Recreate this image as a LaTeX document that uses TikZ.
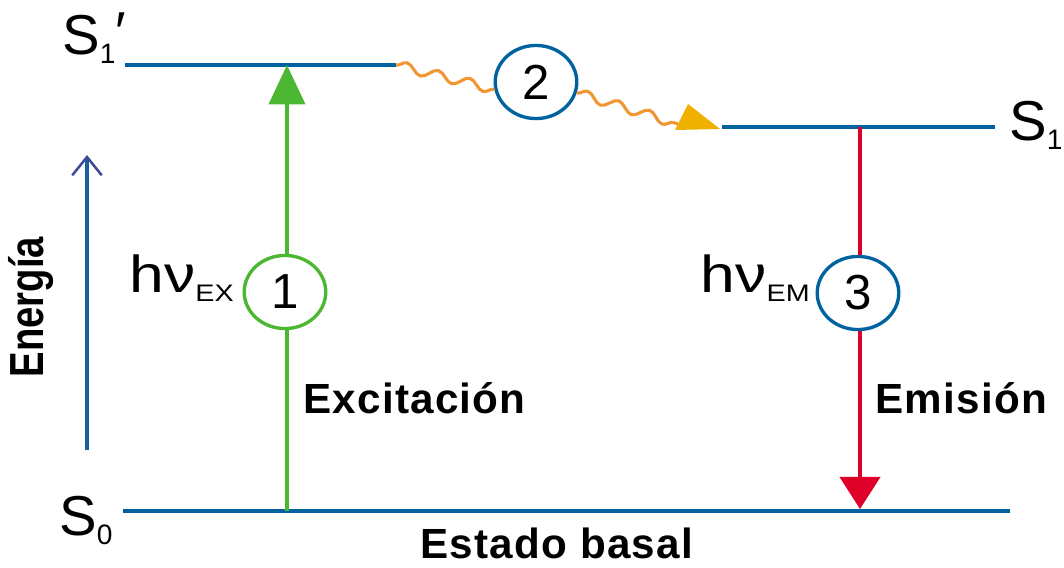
\documentclass[tikz,border=0pt]{standalone}
\usepackage{fontspec}
\setmainfont{Liberation Sans}
\usetikzlibrary{arrows.meta,decorations.pathmorphing,shapes.geometric}

\definecolor{lvlblue}{RGB}{0,98,160}
\definecolor{exgreen}{RGB}{76,184,50}
\definecolor{emred}{RGB}{222,0,40}
\definecolor{waveorange}{RGB}{240,150,50}
\definecolor{tipyellow}{RGB}{240,176,0}
\definecolor{enblue}{RGB}{25,95,160}
\definecolor{enhead}{RGB}{60,75,150}

\newcommand{\lowsub}[1]{\lower7pt\hbox{\fontsize{20}{20}\selectfont #1}}
\newcommand{\hvsub}[1]{\lower7pt\hbox{\fontsize{17}{17}\selectfont #1}}

\tikzset{
  level/.style={lvlblue, line width=2.5pt},
  stepnum/.style={ellipse, draw, line width=2.4pt, fill=white, inner sep=0pt,
    minimum width=58pt, minimum height=52pt, font=\fontsize{35}{35}\selectfont},
  wave/.style={waveorange, line width=2.2pt, decorate,
    decoration={snake, amplitude=3.4pt, segment length=23pt}},
  tag/.style={inner sep=0pt, font=\fontsize{30}{30}\selectfont\bfseries\addfontfeature{LetterSpace=3}},
  statelbl/.style={inner sep=0pt, font=\fontsize{40}{40}\selectfont},
  photon/.style={inner sep=0pt, font=\fontsize{37}{37}\selectfont},
}

\begin{document}
\begin{tikzpicture}[x=0.025cm, y=-0.025cm]
    \useasboundingbox (0,0) rectangle (1064,567);
    %% energy levels
    \coordinate (s1pL) at (125,65);  \coordinate (s1pR) at (396,65);
    \coordinate (s1L) at (722,127);  \coordinate (s1R) at (995,127);
    \coordinate (s0L) at (123,511);  \coordinate (s0R) at (1010,511);
    \draw[level] (s1pL) -- (s1pR);
    \draw[level] (s1L) -- (s1R);
    \draw[level] (s0L) -- (s0R);
    \node[statelbl, anchor=base west] (s1ptxt) at (62,54) {S\lowsub{1}\raisebox{2pt}{′}};
    \node[statelbl, anchor=base west] (s1txt) at (1009,140) {S\lowsub{1}};
    \node[statelbl, anchor=base west] (s0txt) at (59,535) {S\lowsub{0}};
    %% energy axis
    \coordinate (en0) at (87,450);
    \coordinate (en1) at (87,155);
    \draw[enblue, line width=2.2pt, -{Straight Barb[length=13pt, width=21pt, line width=1.8pt, color=enhead]}] (en0) -- (en1);
    \node[rotate=90, inner sep=0pt, font=\fontsize{34}{34}\selectfont\bfseries] (energia) at (31,307) {\scalebox{0.8}[1]{Energía}};
    %% 1: excitation
    \coordinate (ex0) at (287,511);
    \coordinate (ex1) at (287,65);
    \draw[exgreen, line width=2.8pt, -{Triangle[length=28pt, width=25.6pt]}] (ex0) -- (ex1);
    \node[stepnum, draw=exgreen] (ex) at (285,292) {1};
    \node[photon, anchor=base east] (hvex) at (234,292) {\scalebox{1.2}[1]{hν\hvsub{EX}}};
    \node[tag, anchor=base west] (exc) at (303,413) {Excitación};
    %% 2: relaxation
    \node[stepnum, draw=lvlblue] (vr) at (536,82) {2};
    \coordinate (wvend) at (678,124);
    \draw[wave] (s1pR) -- (vr.190);
    \draw[wave] (vr.-15) -- (wvend);
    \fill[tipyellow] (675,130) -- (688,104) -- (720,129) -- cycle;
    %% 3: emission
    \coordinate (em0) at (860,127);
    \coordinate (em1) at (860,509);
    \draw[emred, line width=2.8pt, -{Triangle[length=22.8pt, width=28.5pt]}] (em0) -- (em1);
    \node[stepnum, draw=lvlblue] (em) at (858,293) {3};
    \node[photon, anchor=base east] (hvem) at (810,292) {\scalebox{1.2}[1]{hν\hvsub{EM}}};
    \node[tag, anchor=base west] (emi) at (875,413) {Emisión};
    \node[tag, anchor=base west] (basal) at (420,558) {Estado basal};
\end{tikzpicture}
\end{document}
